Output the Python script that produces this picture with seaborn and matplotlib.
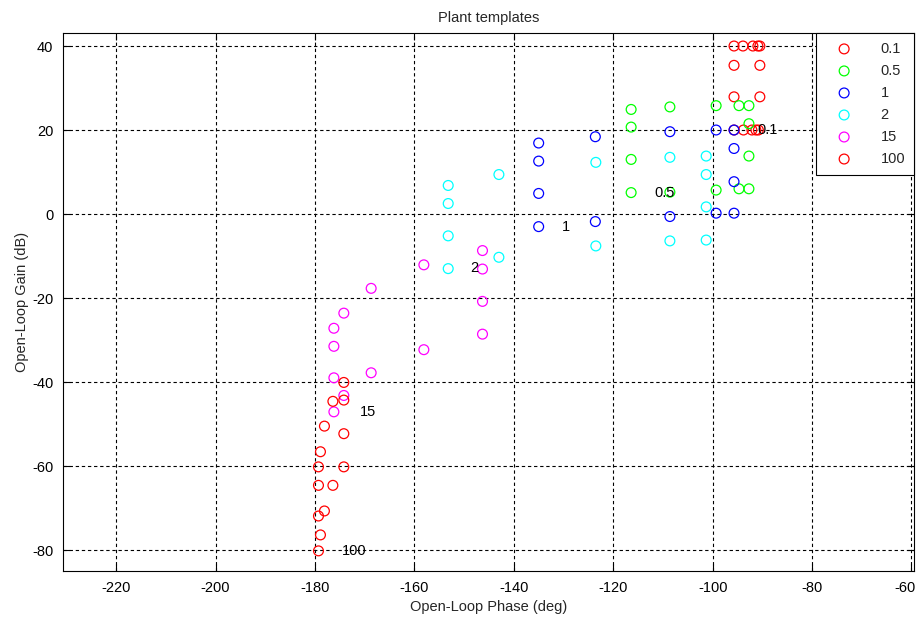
import matplotlib
matplotlib.use("Agg")
import matplotlib.pyplot as plt
import matplotlib.transforms as mtransforms
import seaborn as sns

# Template frequencies (rad/s) and their marker colours
labels = ["0.1", "0.5", "1", "2", "15", "100"]
colors = ["#ff0000", "#00ff00", "#0000ff", "#00ffff", "#ff00ff", "#ff0000"]

# Open-loop phase (deg) / gain (dB) of each plant template
phase_01 = [-95.7, -95.7, -95.7, -95.7, -93.9, -91.9, -90.9, -90.5, -90.5, -90.5, -90.8, -91.3, -92.1, -93.8]
gain_01 = [40.0, 35.4, 27.9, 20.0, 40.0, 40.0, 40.0, 40.0, 35.4, 27.9, 20.0, 20.0, 20.0, 20.0]

phase_05 = [-116.4, -116.4, -116.4, -116.4, -108.6, -108.6, -99.3, -99.3, -94.7, -94.7, -92.7, -92.7, -92.7, -92.7]
gain_05 = [24.9, 20.7, 13.0, 5.1, 25.5, 5.2, 25.8, 5.7, 25.8, 6.0, 25.8, 21.5, 13.8, 6.0]

phase_1 = [-135.0, -135.0, -135.0, -135.0, -123.6, -123.6, -108.6, -108.6, -99.3, -99.3, -95.7, -95.7, -95.7, -95.7]
gain_1 = [16.9, 12.6, 4.9, -3.0, 18.4, -1.8, 19.6, -0.6, 20.0, 0.2, 20.0, 15.6, 7.7, 0.2]

phase_2 = [-153.2, -153.2, -153.2, -153.2, -143.0, -143.0, -123.5, -123.5, -108.6, -108.6, -101.3, -101.3, -101.3, -101.3]
gain_2 = [6.8, 2.5, -5.2, -13.0, 9.4, -10.3, 12.3, -7.6, 13.5, -6.4, 13.8, 9.4, 1.7, -6.2]

phase_15 = [-146.3, -146.3, -146.3, -146.3, -158.1, -158.1, -168.7, -168.7, -174.2, -174.2, -176.2, -176.2, -176.2, -176.2]
gain_15 = [-8.7, -13.1, -20.8, -28.6, -12.1, -32.3, -17.7, -37.8, -23.6, -43.2, -27.2, -31.5, -39.0, -47.1]

phase_100 = [-174.2, -174.2, -174.2, -174.2, -176.4, -176.4, -178.1, -178.1, -178.9, -178.9, -179.3, -179.3, -179.3, -179.3]
gain_100 = [-40.1, -44.3, -52.3, -60.2, -44.6, -64.6, -50.5, -70.7, -56.6, -76.4, -60.2, -64.6, -71.9, -80.2]

# Where each template's name is written
label_phase = [-91.1, -111.8, -130.3, -148.8, -171.0, -174.6]
label_gain = [20.0, 5.1, -3.0, -12.9, -47.1, -80.2]

x_ticks = [-220, -200, -180, -160, -140, -120, -100, -80, -60]
y_ticks = [-80, -60, -40, -20, 0, 20, 40]

phases = [phase_01, phase_05, phase_1, phase_2, phase_15, phase_100]
gains = [gain_01, gain_05, gain_1, gain_2, gain_15, gain_100]

sns.set_style("white")
plt.rcParams["font.family"] = ["Liberation Sans Narrow", "Liberation Sans", "DejaVu Sans"]
plt.rcParams["font.size"] = 10.5
plt.rcParams["axes.unicode_minus"] = False

fig = plt.figure(figsize=(9.18, 6.19), dpi=100)
ax = fig.add_axes([0.0686, 0.0775, 0.9270, 0.8692])

for ph, g, lab, col in zip(phases, gains, labels, colors):
    sns.scatterplot(x=ph, y=g, ax=ax, marker="o", s=50, facecolors="none",
                    edgecolor=col, linewidth=0.9, label=lab, zorder=3)

for txt, px, gy in zip(labels, label_phase, label_gain):
    ax.text(px, gy, txt, ha="left", va="center", color="black", fontsize=10.5, zorder=4)

ax.set_xlim(-230.7, -59.5)
ax.set_ylim(-85.0, 43.1)
ax.set_xticks(x_ticks)
ax.set_yticks(y_ticks)
ax.grid(True, color="black", linestyle=(0, (3, 2.5)), linewidth=0.8)
ax.set_axisbelow(True)
ax.tick_params(direction="in", length=5, width=0.8, top=True, right=True,
               bottom=True, left=True, labelsize=10.5, colors="black", pad=7)
for sp in ax.spines.values():
    sp.set_visible(True)
    sp.set_color("black")
    sp.set_linewidth(0.8)

# keep the right-most phase label inside the figure
fig.canvas.draw()
last = ax.get_xticklabels()[-1]
last.set_transform(last.get_transform() +
                   mtransforms.ScaledTranslation(-6 / 100, 0, fig.dpi_scale_trans))

ax.set_title("Plant templates", fontsize=10.5, pad=8)
ax.set_xlabel("Open-Loop Phase (deg)", fontsize=10.5, labelpad=4)
ax.set_ylabel("Open-Loop Gain (dB)", fontsize=10.5, labelpad=2)

leg = ax.legend(loc="upper right", borderaxespad=0, fancybox=False, framealpha=1,
                edgecolor="black", fontsize=10.5, handletextpad=1.2,
                labelspacing=0.55, borderpad=0.6, handlelength=2.6)
leg.get_frame().set_linewidth(0.8)

fig.savefig("out.png", dpi=100, facecolor="white")
